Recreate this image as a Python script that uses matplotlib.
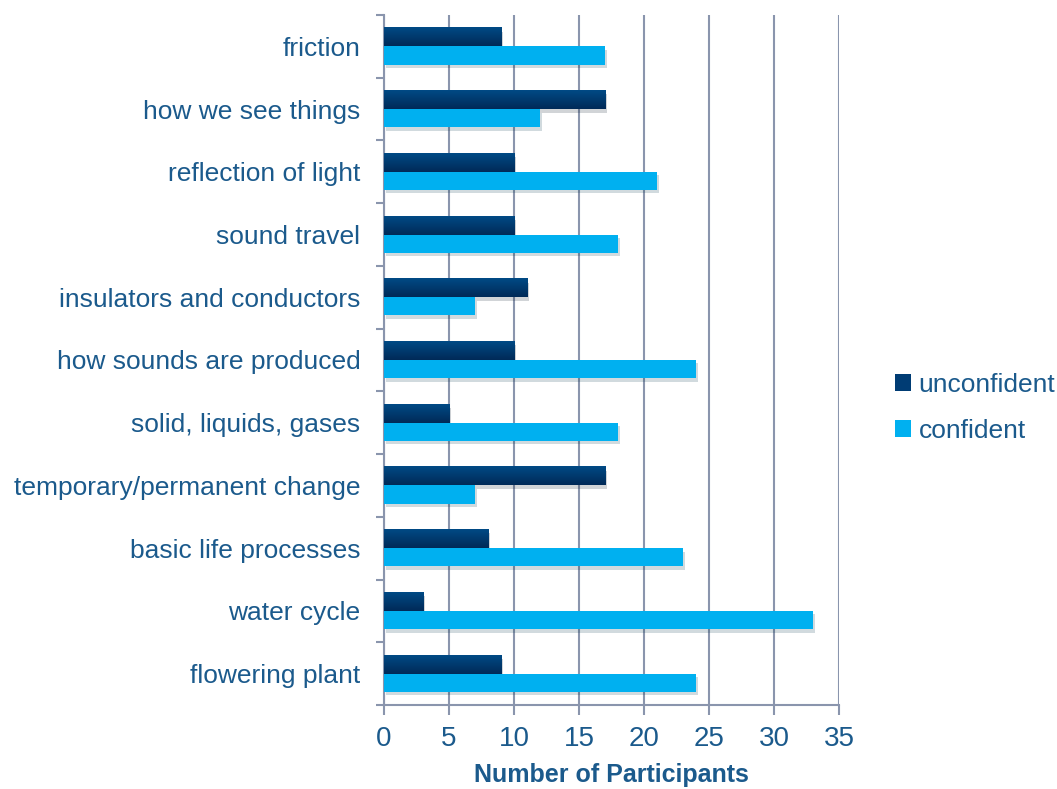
import numpy as np
import matplotlib
matplotlib.use("Agg")
import matplotlib.pyplot as plt
import matplotlib.patheffects as pe
from matplotlib.colors import LinearSegmentedColormap
from matplotlib.patches import Patch

# topics, listed top to bottom as in the chart
topics = ["friction", "how we see things", "reflection of light", "sound travel",
          "insulators and conductors", "how sounds are produced",
          "solid, liquids, gases", "temporary/permanent change",
          "basic life processes", "water cycle", "flowering plant"]
unconfident = [9, 17, 10, 10, 11, 10, 5, 17, 8, 3, 9]
confident = [17, 12, 21, 18, 7, 24, 18, 7, 23, 33, 24]
x_ticks = [0, 5, 10, 15, 20, 25, 30, 35]

TEXT = "#1B5A8C"
GRID = "#8A95AD"
DARK = "#003C74"
LIGHT = "#00B0F0"

plt.rcParams["font.family"] = ["Liberation Sans", "DejaVu Sans"]

fig = plt.figure(figsize=(10.57, 7.89), dpi=100)
ax = fig.add_axes([0.3633, 0.1065, 0.4305, 0.8745])

n = len(topics)
y = np.arange(n)[::-1]
h = 0.29
shadow = [pe.SimplePatchShadow(offset=(1.5, -2.5), alpha=0.18), pe.Normal()]

b1 = ax.barh(y + h / 2, unconfident, height=h, color=DARK, zorder=3)
b2 = ax.barh(y - h / 2, confident, height=h, color=LIGHT, zorder=3)
for bar in list(b1) + list(b2):
    bar.set_path_effects(shadow)

# vertical gradient on the dark bars
grad_cmap = LinearSegmentedColormap.from_list("navy", ["#002A58", "#004A85"])
grad = np.linspace(0, 1, 50).reshape(-1, 1)
for bar in b1:
    x0, y0 = bar.get_x(), bar.get_y()
    w, hh = bar.get_width(), bar.get_height()
    ax.imshow(grad, extent=[x0, x0 + w, y0, y0 + hh], origin="lower",
              aspect="auto", cmap=grad_cmap, zorder=3.5)

ax.set_xlim(0, 35)
ax.set_ylim(-0.5, n - 0.5)
ax.set_xticks(x_ticks)
ax.set_yticks(y)
ax.set_yticklabels(topics)
ax.set_yticks(np.arange(-0.5, n, 1.0), minor=True)

ax.grid(axis="x", color=GRID, linewidth=1.5, zorder=0)
ax.set_axisbelow(True)
for s in ["top", "right"]:
    ax.spines[s].set_visible(False)
for s in ["left", "bottom"]:
    ax.spines[s].set_color(GRID)
    ax.spines[s].set_linewidth(1.5)

ax.tick_params(axis="y", which="major", length=0, pad=17, labelsize=19, labelcolor=TEXT)
ax.tick_params(axis="y", which="minor", length=6, width=1.5, color=GRID)
ax.tick_params(axis="x", length=7, width=1.5, color=GRID, labelsize=20, labelcolor=TEXT, pad=8)

ax.set_xlabel("Number of Participants", fontsize=18, fontweight="bold", color=TEXT, labelpad=8)

handles = [Patch(facecolor=DARK, label="unconfident"), Patch(facecolor=LIGHT, label="confident")]
leg = fig.legend(handles=handles, loc="center left", bbox_to_anchor=(0.824, 0.483),
                 frameon=False, fontsize=19, labelcolor=TEXT,
                 handlelength=0.6, handleheight=0.6, handletextpad=0.3, labelspacing=0.85)

fig.savefig("out.png", dpi=100)
